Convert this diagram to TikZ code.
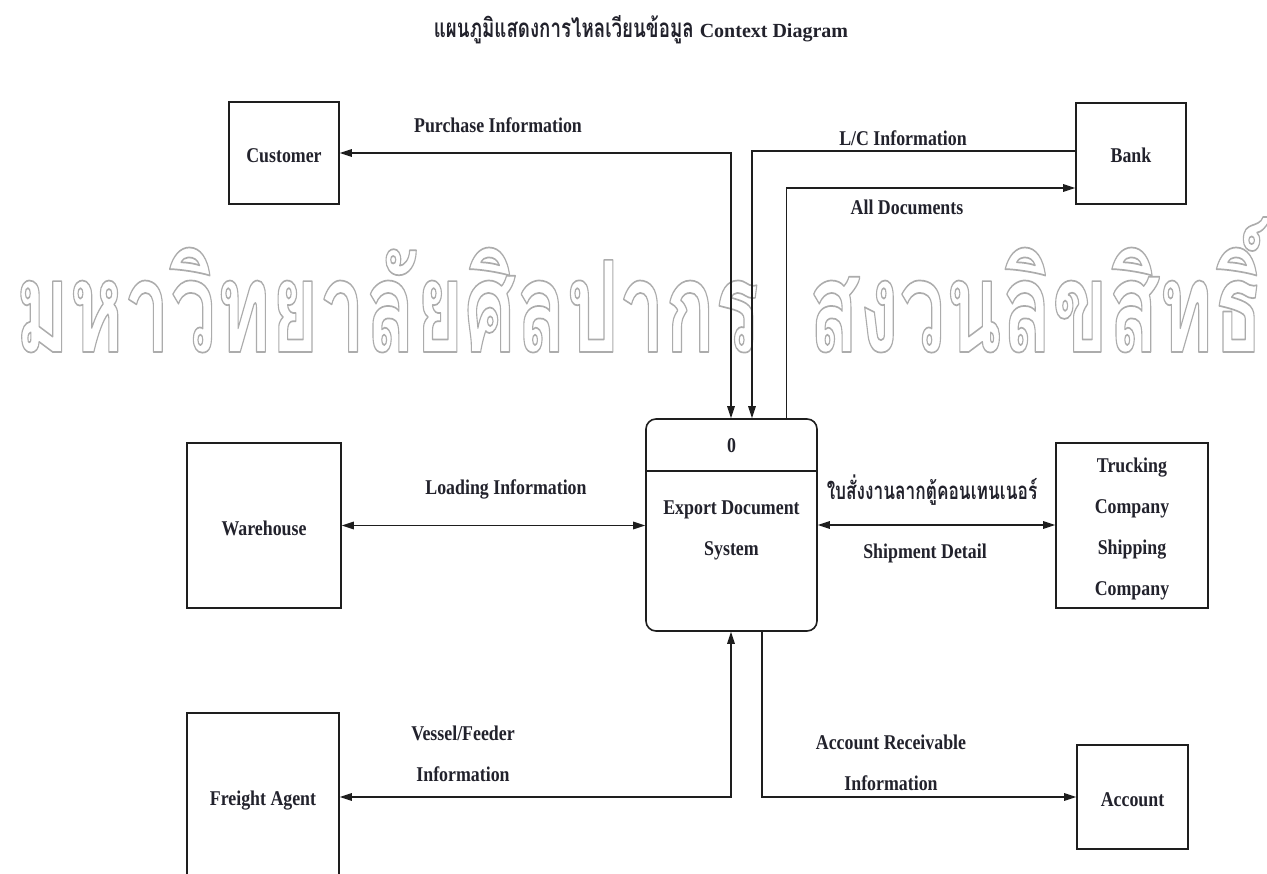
\documentclass[tikz,border=0pt]{standalone}
\usepackage{fontspec}
\usepackage{graphicx}
\setmainfont{Liberation Serif}[FakeStretch=0.85]
\newfontfamily\titlefont{Liberation Serif}
\newfontfamily\thaifont{Loma}[Script=Thai,FakeStretch=0.72]
\newfontfamily\markfont{Loma}[Script=Thai]
\usetikzlibrary{arrows.meta}
\definecolor{inkblack}{RGB}{34,34,44}
\definecolor{linegray}{RGB}{30,30,30}
\definecolor{markgray}{RGB}{172,172,172}

\tikzset{
  entity/.style={draw=linegray, line width=1.6pt, text=inkblack, align=center,
    inner sep=0pt, text height=19pt, text depth=0pt,
    font=\bfseries\fontsize{21}{40.7}\selectfont},
  flowlbl/.style={text=inkblack, align=center, inner sep=0pt,
    font=\bfseries\fontsize{21}{41}\selectfont},
  flow/.style={draw=linegray, line width=1.6pt},
}

\begin{document}
\begin{tikzpicture}[x=1pt,y=-1pt,>={Triangle[length=12pt,width=7.5pt]}]
\path[use as bounding box, fill=white] (0,0) rectangle (1267,874);

% Watermark (outlined letters)
\node[text=markgray, anchor=base west, inner sep=0pt] (mark) at (15,352)
  {\resizebox{1248pt}{135pt}{\markfont\bfseries\fontsize{150}{150}\selectfont\special{pdf:literal direct 1 Tr 2 w 1 j}มหาวิทยาลัยศิลปากร\hspace{90pt}สงวนลิขสิทธิ์\special{pdf:literal direct 0 Tr}}};

% Title
\node[text=inkblack, anchor=base, inner sep=0pt] (title) at (641,38)
  {{\thaifont\bfseries\fontsize{26}{28}\selectfont แผนภูมิแสดงการไหลเวียนข้อมูล}\hspace{6pt}{\titlefont\bfseries\fontsize{20}{24}\selectfont Context Diagram}};

% Process
\node[flow, rounded corners=10pt, minimum width=171pt, minimum height=212pt] (proc) at (731.5,525) {};
\draw[flow] (proc.west |- 0,471) -- (proc.east |- 0,471);
\node[flowlbl, anchor=base] (procid) at (731.5,453) {0};
\node[flowlbl, anchor=base] (procname) at (731.5,555) {Export Document\\System};

% External entities
\node[entity, minimum width=110pt, minimum height=102pt] (customer) at (284,153) {Customer};
\node[entity, minimum width=110pt, minimum height=101pt] (bank) at (1131,153.5) {Bank};
\node[entity, minimum width=154pt, minimum height=165pt] (warehouse) at (264,525.5) {Warehouse};
\node[entity, minimum width=152pt, minimum height=165pt, text height=139pt] (trucking) at (1132,525.5) {Trucking\\Company\\Shipping\\Company};
\node[entity, minimum width=152pt, minimum height=165pt] (freight) at (263,795.5) {Freight Agent};
\node[entity, minimum width=111pt, minimum height=104pt] (account) at (1132.5,797) {Account};

% Data flows
\draw[flow, <->] (customer.east) -| ([xshift=-0.5pt]proc.north);
\draw[flow, ->] ([yshift=2.5pt]bank.west) -| ([xshift=20.5pt]proc.north);
\draw[flow, ->] ([xshift=55pt]proc.north) |- ([yshift=-34.5pt]bank.west);
\draw[flow, <->] (warehouse.east) -- (warehouse.east -| proc.west);
\draw[flow, <->] (proc.east) -- (proc.east -| trucking.west);
\draw[flow, <->] ([yshift=-1.5pt]freight.east) -| ([xshift=-0.5pt]proc.south);
\draw[flow, ->] ([xshift=30.5pt]proc.south) |- (account.west);

% Flow labels
\node[flowlbl, anchor=base] (purchase) at (498,133) {Purchase Information};
\node[flowlbl, anchor=base] (lcinfo) at (903,146) {L/C Information};
\node[flowlbl, anchor=base] (alldocs) at (907,215) {All Documents};
\node[flowlbl, anchor=base] (loading) at (506,494) {Loading Information};
\node[text=inkblack, anchor=base, inner sep=0pt] (container) at (932,500)
  {\thaifont\bfseries\fontsize{24}{28}\selectfont ใบสั่งงานลากตู้คอนเทนเนอร์};
\node[flowlbl, anchor=base] (shipment) at (925,558) {Shipment Detail};
\node[flowlbl, anchor=base] (vessel) at (463,781) {Vessel/Feeder\\Information};
\node[flowlbl, anchor=base] (receivable) at (891,790) {Account Receivable\\Information};
\end{tikzpicture}
\end{document}
